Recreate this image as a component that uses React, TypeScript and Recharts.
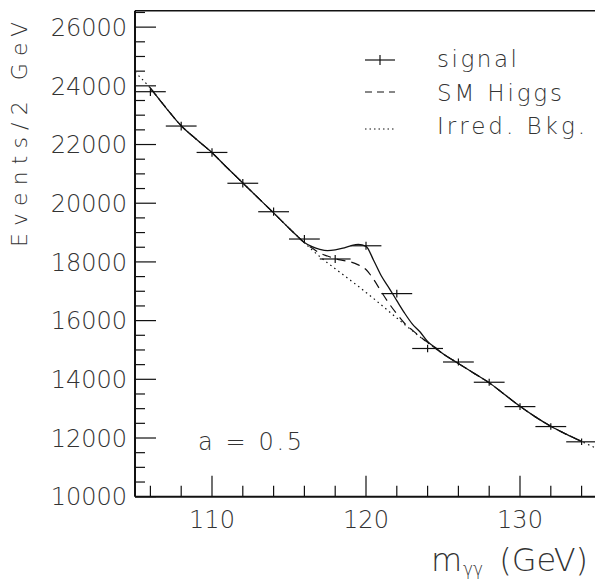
import { ComposedChart, ErrorBar, Line, ReferenceLine, Scatter, XAxis, YAxis } from 'recharts';

// fitted curves (GeV, events per 2 GeV)
const curveMass = [
  105, 106, 107, 108, 109, 110, 111, 112, 113, 114, 115, 115.5, 116, 116.5, 117, 117.5, 118, 118.5,
  119, 119.5, 120, 120.5, 121, 121.5, 122, 122.5, 123, 123.5, 124, 124.5, 125, 126, 127, 128, 129,
  130, 131, 132, 133, 134, 135,
];
const irredBkg = [
  24470, 23920, 23260, 22640, 22170, 21720, 21200, 20690, 20180, 19670, 19150, 18900, 18650, 18410,
  18180, 17970, 17770, 17570, 17370, 17170, 16960, 16750, 16530, 16310, 16090, 15870, 15660, 15450,
  15250, 15060, 14870, 14540, 14210, 13880, 13480, 13080, 12720, 12400, 12130, 11880, 11640,
];
const smHiggs = [
  null, 23920, 23260, 22640, 22170, 21720, 21200, 20690, 20180, 19670, 19150, 18900, 18650, 18470,
  18300, 18200, 18110, 18050, 18000, 17900, 17740, 17400, 16980, 16580, 16230, 15910, 15680, 15460,
  15260, 15060, 14870, 14540, 14210, 13880, 13480, 13080, 12720, 12400, 12130, 11880, null,
];
const signalFit = [
  null, 23920, 23260, 22640, 22170, 21720, 21200, 20690, 20180, 19670, 19150, 18900, 18660, 18520,
  18430, 18385, 18410, 18470, 18550, 18600, 18530, 18050, 17520, 17110, 16680, 16260, 15890, 15620,
  15290, 15080, 14870, 14540, 14210, 13880, 13480, 13080, 12720, 12400, 12130, 11880, null,
];

// binned signal sample
const binMass = [106, 108, 110, 112, 114, 116, 118, 120, 122, 124, 126, 128, 130, 132, 134];
const binEvents = [
  23800, 22630, 21730, 20680, 19710, 18780, 18100, 18550, 16920, 15050, 14590, 13900, 13070, 12390,
  11870,
];
const binError = [150, 150, 145, 145, 140, 135, 135, 135, 130, 125, 120, 120, 115, 110, 110];
const binHalfWidth = [1, 1, 1, 1, 1, 1, 1, 1, 1, 1, 1, 1, 1, 1, 1];

const xTicks = [106, 108, 110, 112, 114, 116, 118, 120, 122, 124, 126, 128, 130, 132, 134];
const xLabels = [110, 120, 130];
const yTicks = [
  10000, 10500, 11000, 11500, 12000, 12500, 13000, 13500, 14000, 14500, 15000, 15500, 16000, 16500,
  17000, 17500, 18000, 18500, 19000, 19500, 20000, 20500, 21000, 21500, 22000, 22500, 23000, 23500,
  24000, 24500, 25000, 25500, 26000, 26500,
];
const yLabels = [10000, 12000, 14000, 16000, 18000, 20000, 22000, 24000, 26000];

const ink = '#111';
const textInk = '#333';
const font = '"DejaVu Sans", sans-serif';

const curveRows = curveMass.map((mass, i) => ({
  mass,
  bkg: irredBkg[i],
  higgs: smHiggs[i],
  fit: signalFit[i],
}));

const binRows = binMass.map((mass, i) => ({
  mass,
  events: binEvents[i],
  yErr: binError[i],
  xErr: binHalfWidth[i],
}));

function XTick(props: any) {
  const { x, y, payload } = props;
  const major = xLabels.includes(payload.value);
  return (
    <g>
      <line x1={x} x2={x} y1={y} y2={y - (major ? 21 : 11)} stroke={ink} strokeWidth={1.2} />
      {major ? (
        <text x={x} y={y + 31.5} textAnchor="middle" fontSize={24} fontFamily={font} fontWeight={200} fill={textInk}>
          {payload.value}
        </text>
      ) : null}
    </g>
  );
}

function YTick(props: any) {
  const { x, y, payload } = props;
  const major = yLabels.includes(payload.value);
  return (
    <g>
      <line x1={x} x2={x + (major ? 21 : 10)} y1={y} y2={y} stroke={ink} strokeWidth={1.2} />
      {major ? (
        <text x={x - 8} y={y + 8.7} textAnchor="end" fontSize={24} fontFamily={font} fontWeight={200} fill={textInk}>
          {payload.value}
        </text>
      ) : null}
    </g>
  );
}

const noMarker = () => <g />;

export default function App() {
  return (
    <div style={{ position: 'absolute', left: 0, top: 0, width: 595, height: 580, overflow: 'hidden', background: '#fff' }}>
      <ComposedChart
        width={600}
        height={580}
        data={curveRows}
        margin={{ top: 10.7, right: 3, bottom: 43.3, left: 75 }}
      >
        <XAxis
          type="number"
          dataKey="mass"
          domain={[105, 135]}
          allowDataOverflow
          ticks={xTicks}
          interval={0}
          tickSize={0}
          tickMargin={0}
          tickLine={false}
          tick={(p: any) => <XTick {...p} />}
          axisLine={{ stroke: ink, strokeWidth: 2 }}
          height={40}
        />
        <YAxis
          type="number"
          domain={[10000, 26560]}
          allowDataOverflow
          ticks={yTicks}
          interval={0}
          tickSize={0}
          tickMargin={0}
          tickLine={false}
          tick={(p: any) => <YTick {...p} />}
          axisLine={{ stroke: ink, strokeWidth: 2 }}
          width={60}
        />
        <ReferenceLine y={26560} stroke={ink} strokeWidth={1.5} />
        <Line
          type="monotone"
          dataKey="bkg"
          stroke={ink}
          strokeWidth={1.2}
          strokeDasharray="1.5 3.5"
          dot={false}
          isAnimationActive={false}
        />
        <Line
          type="monotone"
          dataKey="higgs"
          stroke={ink}
          strokeWidth={1.2}
          strokeDasharray="9 6"
          dot={false}
          isAnimationActive={false}
        />
        <Line
          type="monotone"
          dataKey="fit"
          stroke={ink}
          strokeWidth={1.3}
          dot={false}
          isAnimationActive={false}
        />
        <Scatter data={binRows} dataKey="events" shape={noMarker} isAnimationActive={false}>
          <ErrorBar dataKey="xErr" direction="x" width={0} stroke={ink} strokeWidth={1.2} />
          <ErrorBar dataKey="yErr" direction="y" width={0} stroke={ink} strokeWidth={1.2} />
        </Scatter>
      </ComposedChart>

      <svg
        width={595}
        height={580}
        style={{ position: 'absolute', left: 0, top: 0, pointerEvents: 'none' }}
        fontFamily={font}
        fontWeight={200}
        fill={textInk}
      >
        <text transform="translate(27,247) rotate(-90)" fontSize={22} textLength={225} lengthAdjust="spacing">
          Events/2 GeV
        </text>
        <text x={431} y={571} fontSize={32}>m</text>
        <text x={463} y={575} fontSize={17}>γγ</text>
        <text x={588} y={571} fontSize={32} textAnchor="end">(GeV)</text>
        <text x={198} y={450} fontSize={24} textLength={104} lengthAdjust="spacing">
          a = 0.5
        </text>

        <line x1={365} x2={395} y1={60} y2={60} stroke={ink} strokeWidth={1.2} />
        <line x1={380} x2={380} y1={55} y2={65} stroke={ink} strokeWidth={1.2} />
        <text x={437} y={67} fontSize={23} textLength={80} lengthAdjust="spacing">signal</text>

        <line x1={365} x2={395} y1={92} y2={92} stroke={ink} strokeWidth={1.2} strokeDasharray="7 5" />
        <text x={437} y={101} fontSize={23} textLength={125} lengthAdjust="spacing">SM Higgs</text>

        <line x1={365} x2={395} y1={129} y2={129} stroke={ink} strokeWidth={1.2} strokeDasharray="1.5 3" />
        <text x={437} y={134} fontSize={23} textLength={148} lengthAdjust="spacing">Irred. Bkg.</text>
      </svg>
    </div>
  );
}
